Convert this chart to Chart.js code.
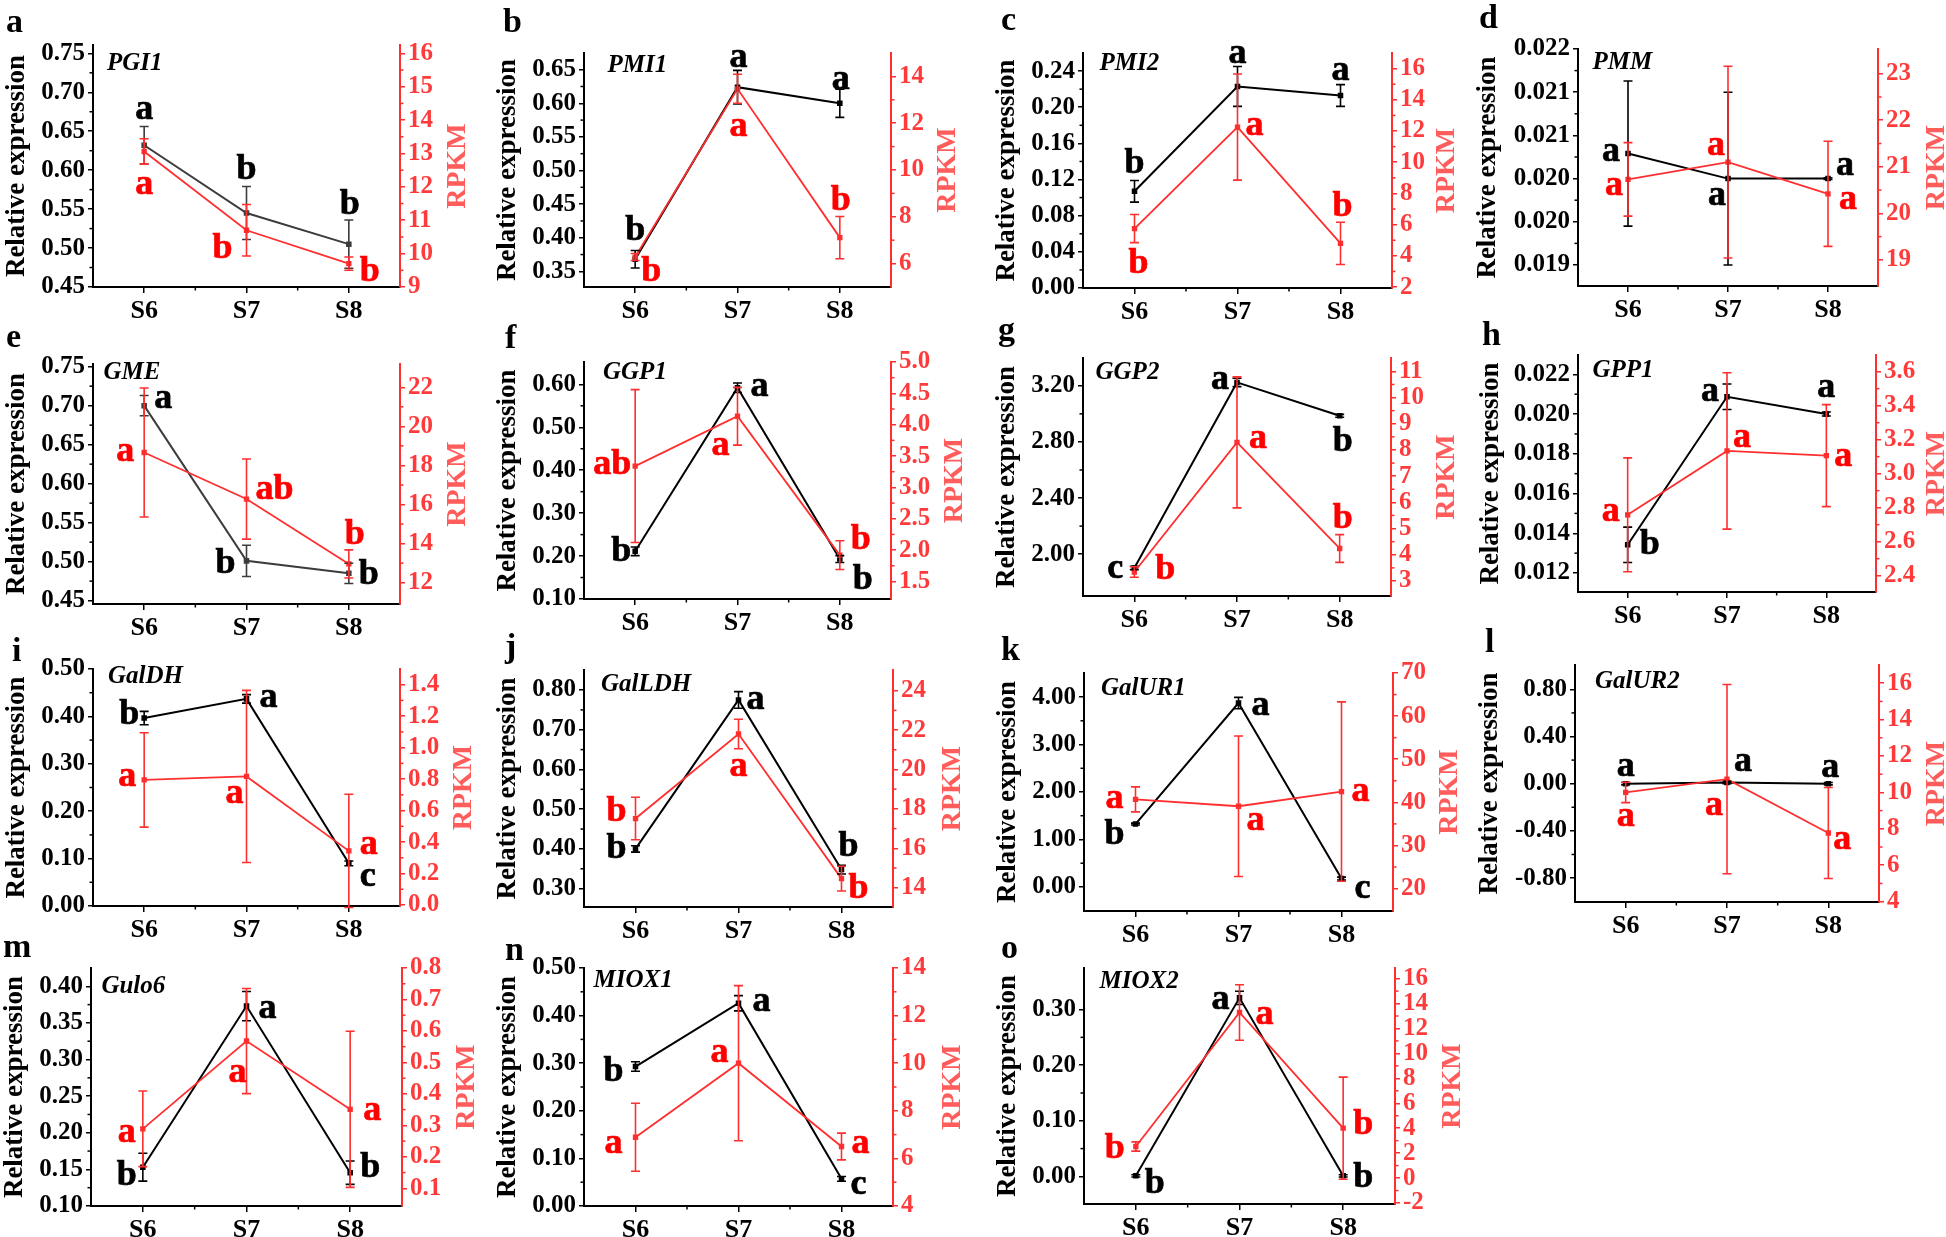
<!DOCTYPE html>
<html><head><meta charset="utf-8">
<script src="https://cdn.jsdelivr.net/npm/chart.js@4.4.1/dist/chart.umd.min.js"></script>
<style>
html,body{margin:0;padding:0;background:#fff;width:1946px;height:1237px;overflow:hidden;}
#wrap{position:relative;width:1946px;height:1237px;background:#fff;}
#wrap canvas{position:absolute;}
</style></head><body><div id="wrap"></div>
<script>
const stages = ['S6','S7','S8'];

// a PGI1
const PGI1_rel = [0.632, 0.545, 0.505];
const PGI1_relErr = [0.024, 0.034, 0.031];
const PGI1_rpkm = [13.06, 10.70, 9.70];
const PGI1_rpkmErr = [0.38, 0.77, 0.20];
const PGI1_relSig = ['a','b','b'];
const PGI1_rpkmSig = ['a','b','b'];
const PGI1_relTicks = [0.45,0.50,0.55,0.60,0.65,0.70,0.75];
const PGI1_rpkmTicks = [9,10,11,12,13,14,15,16];
// b PMI1
const PMI1_rel = [0.368, 0.624, 0.600];
const PMI1_relErr = [0.013, 0.025, 0.021];
const PMI1_rpkm = [6.28, 13.47, 7.11];
const PMI1_rpkmErr = [0.15, 0.62, 0.90];
const PMI1_relSig = ['b','a','a'];
const PMI1_rpkmSig = ['b','a','b'];
const PMI1_relTicks = [0.35,0.40,0.45,0.50,0.55,0.60,0.65];
const PMI1_rpkmTicks = [6,8,10,12,14];
// c PMI2
const PMI2_rel = [0.107, 0.223, 0.213];
const PMI2_relErr = [0.012, 0.022, 0.012];
const PMI2_rpkm = [5.75, 12.25, 4.80];
const PMI2_rpkmErr = [0.90, 3.40, 1.35];
const PMI2_relSig = ['b','a','a'];
const PMI2_rpkmSig = ['b','a','b'];
const PMI2_relTicks = [0.00,0.04,0.08,0.12,0.16,0.20,0.24];
const PMI2_rpkmTicks = [2,4,6,8,10,12,14,16];
// d PMM
const PMM_rel = [0.02079, 0.0205, 0.0205];
const PMM_relErr = [0.00084, 0.0010, 0.00001];
const PMM_rpkm = [20.73, 21.10, 20.42];
const PMM_rpkmErr = [0.79, 2.06, 1.13];
const PMM_relSig = ['a','a','a'];
const PMM_rpkmSig = ['a','a','a'];
const PMM_relTicks = [0.0195,0.0200,0.0205,0.0210,0.0215,0.0220];
const PMM_relTickLabels = ['0.019','0.020','0.020','0.021','0.021','0.022'];
const PMM_rpkmTicks = [19,20,21,22,23];
// e GME
const GME_rel = [0.700, 0.501, 0.485];
const GME_relErr = [0.013, 0.020, 0.013];
const GME_rpkm = [18.66, 16.28, 12.96];
const GME_rpkmErr = [3.30, 2.05, 0.72];
const GME_relSig = ['a','b','b'];
const GME_rpkmSig = ['a','ab','b'];
const GME_relTicks = [0.45,0.50,0.55,0.60,0.65,0.70,0.75];
const GME_rpkmTicks = [12,14,16,18,20,22];
// f GGP1
const GGP1_rel = [0.211, 0.592, 0.193];
const GGP1_relErr = [0.010, 0.011, 0.008];
const GGP1_rpkm = [3.34, 4.135, 1.92];
const GGP1_rpkmErr = [1.22, 0.46, 0.23];
const GGP1_relSig = ['b','a','b'];
const GGP1_rpkmSig = ['ab','a','b'];
const GGP1_relTicks = [0.10,0.20,0.30,0.40,0.50,0.60];
const GGP1_rpkmTicks = [1.5,2.0,2.5,3.0,3.5,4.0,4.5,5.0];
// g GGP2
const GGP2_rel = [1.902, 3.224, 2.986];
const GGP2_relErr = [0.012, 0.030, 0.010];
const GGP2_rpkm = [3.34, 8.29, 4.24];
const GGP2_rpkmErr = [0.20, 2.50, 0.53];
const GGP2_relSig = ['c','a','b'];
const GGP2_rpkmSig = ['b','a','b'];
const GGP2_relTicks = [2.00,2.40,2.80,3.20];
const GGP2_rpkmTicks = [3,4,5,6,7,8,9,10,11];
// h GPP1
const GPP1_rel = [0.01342, 0.02087, 0.0200];
const GPP1_relErr = [0.00089, 0.00064, 0.0001];
const GPP1_rpkm = [2.758, 3.134, 3.106];
const GPP1_rpkmErr = [0.335, 0.46, 0.30];
const GPP1_relSig = ['b','a','a'];
const GPP1_rpkmSig = ['a','a','a'];
const GPP1_relTicks = [0.012,0.014,0.016,0.018,0.020,0.022];
const GPP1_rpkmTicks = [2.4,2.6,2.8,3.0,3.2,3.4,3.6];
// i GalDH
const GalDH_rel = [0.3965, 0.437, 0.090];
const GalDH_relErr = [0.014, 0.009, 0.005];
const GalDH_rpkm = [0.795, 0.817, 0.344];
const GalDH_rpkmErr = [0.30, 0.547, 0.36];
const GalDH_relSig = ['b','a','c'];
const GalDH_rpkmSig = ['a','a','a'];
const GalDH_relTicks = [0.00,0.10,0.20,0.30,0.40,0.50];
const GalDH_rpkmTicks = [0.0,0.2,0.4,0.6,0.8,1.0,1.2,1.4];
// j GalLDH
const GalLDH_rel = [0.400, 0.775, 0.348];
const GalLDH_relErr = [0.008, 0.021, 0.011];
const GalLDH_rpkm = [17.51, 21.80, 14.46];
const GalLDH_rpkmErr = [1.08, 0.75, 0.63];
const GalLDH_relSig = ['b','a','b'];
const GalLDH_rpkmSig = ['b','a','b'];
const GalLDH_relTicks = [0.30,0.40,0.50,0.60,0.70,0.80];
const GalLDH_rpkmTicks = [14,16,18,20,22,24];
// k GalUR1
const GalUR1_rel = [1.324, 3.873, 0.176];
const GalUR1_relErr = [0.02, 0.12, 0.03];
const GalUR1_rpkm = [40.7, 39.1, 42.5];
const GalUR1_rpkmErr = [2.9, 16.3, 20.8];
const GalUR1_relSig = ['b','a','c'];
const GalUR1_rpkmSig = ['a','a','a'];
const GalUR1_relTicks = [0.00,1.00,2.00,3.00,4.00];
const GalUR1_rpkmTicks = [20,30,40,50,60,70];
// l GalUR2
const GalUR2_rel = [0.0, 0.01, 0.0];
const GalUR2_relErr = [0.01, 0.01, 0.01];
const GalUR2_rpkm = [10.0, 10.73, 7.77];
const GalUR2_rpkmErr = [0.56, 5.2, 2.5];
const GalUR2_relSig = ['a','a','a'];
const GalUR2_rpkmSig = ['a','a','a'];
const GalUR2_relTicks = [-0.80,-0.40,0.00,0.40,0.80];
const GalUR2_rpkmTicks = [4,6,8,10,12,14,16];
// m Gulo6
const Gulo6_rel = [0.153, 0.373, 0.1455];
const Gulo6_relErr = [0.019, 0.020, 0.016];
const Gulo6_rpkm = [0.289, 0.568, 0.351];
const Gulo6_rpkmErr = [0.12, 0.167, 0.248];
const Gulo6_relSig = ['b','a','b'];
const Gulo6_rpkmSig = ['a','a','a'];
const Gulo6_relTicks = [0.10,0.15,0.20,0.25,0.30,0.35,0.40];
const Gulo6_rpkmTicks = [0.1,0.2,0.3,0.4,0.5,0.6,0.7,0.8];
// n MIOX1
const MIOX1_rel = [0.293, 0.426, 0.057];
const MIOX1_relErr = [0.010, 0.016, 0.005];
const MIOX1_rpkm = [6.89, 10.0, 6.5];
const MIOX1_rpkmErr = [1.43, 3.26, 0.56];
const MIOX1_relSig = ['b','a','c'];
const MIOX1_rpkmSig = ['a','a','a'];
const MIOX1_relTicks = [0.00,0.10,0.20,0.30,0.40,0.50];
const MIOX1_rpkmTicks = [4,6,8,10,12,14];
// o MIOX2
const MIOX2_rel = [0.001, 0.321, 0.001];
const MIOX2_relErr = [0.002, 0.012, 0.002];
const MIOX2_rpkm = [2.53, 13.28, 4.0];
const MIOX2_rpkmErr = [0.37, 2.23, 4.1];
const MIOX2_relSig = ['b','a','b'];
const MIOX2_rpkmSig = ['b','a','b'];
const MIOX2_relTicks = [0.00,0.10,0.20,0.30];
const MIOX2_rpkmTicks = [-2,0,2,4,6,8,10,12,14,16];

const FONT = '"Liberation Serif","Times New Roman",serif';
const PADL = 120, PADR = 85, PADT = 52, PADB = 48;
const RED_LINE = '#ff2f2f', RED_TICK = '#ff3a3a', RED_TITLE = '#ff5c5c', RED_TXT = '#ff0000';

function fmt(arr, d){ return arr.map(v => v.toFixed(d)); }

const panels = [
 {letter:'a', gene:'PGI1', rel:PGI1_rel, relErr:PGI1_relErr, rpkm:PGI1_rpkm, rpkmErr:PGI1_rpkmErr, relSig:PGI1_relSig, rpkmSig:PGI1_rpkmSig,
  relTicks:PGI1_relTicks, relLabels:fmt(PGI1_relTicks,2), rpkmTicks:PGI1_rpkmTicks, rpkmLabels:fmt(PGI1_rpkmTicks,0),
  area:[92.5,400,45,287.3], relRange:[0.45,0.7607], rpkmRange:[9,16.25],
  relOff:[[0,-36],[0,-43],[1,-39]], rpkmOff:[[0,33],[-24,18],[21,8]], letterXY:[6,32], geneOff:[14,25], titleDx:-76, rpkmDx:58, gray:true},
 {letter:'b', gene:'PMI1', rel:PMI1_rel, relErr:PMI1_relErr, rpkm:PMI1_rpkm, rpkmErr:PMI1_rpkmErr, relSig:PMI1_relSig, rpkmSig:PMI1_rpkmSig,
  relTicks:PMI1_relTicks, relLabels:fmt(PMI1_relTicks,2), rpkmTicks:PMI1_rpkmTicks, rpkmLabels:fmt(PMI1_rpkmTicks,0),
  area:[584,890.6,53,287.3], relRange:[0.3267,0.6748], rpkmRange:[5,15],
  relOff:[[0,-29],[1,-29],[1,-24]], rpkmOff:[[16,15],[1,38],[1,-37]], letterXY:[503,32], geneOff:[23.5,19], titleDx:-76, rpkmDx:57},
 {letter:'c', gene:'PMI2', rel:PMI2_rel, relErr:PMI2_relErr, rpkm:PMI2_rpkm, rpkmErr:PMI2_rpkmErr, relSig:PMI2_relSig, rpkmSig:PMI2_rpkmSig,
  relTicks:PMI2_relTicks, relLabels:fmt(PMI2_relTicks,2), rpkmTicks:PMI2_rpkmTicks, rpkmLabels:fmt(PMI2_rpkmTicks,0),
  area:[1082.5,1391.9,52.7,288.3], relRange:[0,0.26], rpkmRange:[1.94,17.0],
  relOff:[[0,-28],[0,-33],[0,-25]], rpkmOff:[[4,35],[17,-1],[2,-37]], letterXY:[1001,30], geneOff:[16.5,17.3], titleDx:-76, rpkmDx:55},
 {letter:'d', gene:'PMM', rel:PMM_rel, relErr:PMM_relErr, rpkm:PMM_rpkm, rpkmErr:PMM_rpkmErr, relSig:PMM_relSig, rpkmSig:PMM_rpkmSig,
  relTicks:PMM_relTicks, relLabels:PMM_relTickLabels, rpkmTicks:PMM_rpkmTicks, rpkmLabels:fmt(PMM_rpkmTicks,0),
  area:[1577.5,1878,49.3,286], relRange:[0.019257,0.0220], rpkmRange:[18.44,23.53],
  relOff:[[-17,-2],[-11,17],[17,-13]], rpkmOff:[[-14,6],[-12,-16],[20,6]], letterXY:[1479,28], geneOff:[14.5,20], titleDx:-90, rpkmDx:59},
 {letter:'e', gene:'GME', rel:GME_rel, relErr:GME_relErr, rpkm:GME_rpkm, rpkmErr:GME_rpkmErr, relSig:GME_relSig, rpkmSig:GME_rpkmSig,
  relTicks:GME_relTicks, relLabels:fmt(GME_relTicks,2), rpkmTicks:GME_rpkmTicks, rpkmLabels:fmt(GME_rpkmTicks,0),
  area:[92.5,400,364,604], relRange:[0.4457,0.7534], rpkmRange:[10.91,23.19],
  relOff:[[19,-7],[-21,3],[20,1]], rpkmOff:[[-19,-1],[28,-9],[6,-29]], letterXY:[6,347], geneOff:[10.5,15], titleDx:-76, rpkmDx:58, gray:true},
 {letter:'f', gene:'GGP1', rel:GGP1_rel, relErr:GGP1_relErr, rpkm:GGP1_rpkm, rpkmErr:GGP1_rpkmErr, relSig:GGP1_relSig, rpkmSig:GGP1_rpkmSig,
  relTicks:GGP1_relTicks, relLabels:fmt(GGP1_relTicks,2), rpkmTicks:GGP1_rpkmTicks, rpkmLabels:fmt(GGP1_rpkmTicks,1),
  area:[584,890.6,361.7,599.3], relRange:[0.10,0.652], rpkmRange:[1.22,5.0],
  relOff:[[-14,0],[22,-1],[23,21]], rpkmOff:[[-23,-1],[-17,29],[21,-15]], letterXY:[505,348], geneOff:[19,17.3], titleDx:-76, rpkmDx:64},
 {letter:'g', gene:'GGP2', rel:GGP2_rel, relErr:GGP2_relErr, rpkm:GGP2_rpkm, rpkmErr:GGP2_rpkmErr, relSig:GGP2_relSig, rpkmSig:GGP2_rpkmSig,
  relTicks:GGP2_relTicks, relLabels:fmt(GGP2_relTicks,2), rpkmTicks:GGP2_rpkmTicks, rpkmLabels:fmt(GGP2_rpkmTicks,0),
  area:[1082.5,1390.6,358.3,595.7], relRange:[1.702,3.398], rpkmRange:[2.426,11.51],
  relOff:[[-19,1],[-17,-3],[3,26]], rpkmOff:[[31,-2],[21,-4],[3,-30]], letterXY:[998,340], geneOff:[12.5,20.7], titleDx:-76, rpkmDx:56},
 {letter:'h', gene:'GPP1', rel:GPP1_rel, relErr:GPP1_relErr, rpkm:GPP1_rpkm, rpkmErr:GPP1_rpkmErr, relSig:GPP1_relSig, rpkmSig:GPP1_rpkmSig,
  relTicks:GPP1_relTicks, relLabels:fmt(GPP1_relTicks,3), rpkmTicks:GPP1_rpkmTicks, rpkmLabels:fmt(GPP1_rpkmTicks,1),
  area:[1577.5,1876,355,592.3], relRange:[0.011045,0.022972], rpkmRange:[2.304,3.698],
  relOff:[[22,0],[-17,-5],[0,-26]], rpkmOff:[[-17,-3],[15,-13],[17,1]], letterXY:[1482,345], geneOff:[14.5,22], titleDx:-87, rpkmDx:61},
 {letter:'i', gene:'GalDH', rel:GalDH_rel, relErr:GalDH_relErr, rpkm:GalDH_rpkm, rpkmErr:GalDH_rpkmErr, relSig:GalDH_relSig, rpkmSig:GalDH_rpkmSig,
  relTicks:GalDH_relTicks, relLabels:fmt(GalDH_relTicks,2), rpkmTicks:GalDH_rpkmTicks, rpkmLabels:fmt(GalDH_rpkmTicks,1),
  area:[92.5,400,669.3,906], relRange:[0,0.50], rpkmRange:[-0.0064,1.4997],
  relOff:[[-15,-3],[22,-1],[19,13]], rpkmOff:[[-17,-3],[-12,17],[20,-6]], letterXY:[12,661], geneOff:[15,13.7], titleDx:-76, rpkmDx:64},
 {letter:'j', gene:'GalLDH', rel:GalLDH_rel, relErr:GalLDH_relErr, rpkm:GalLDH_rpkm, rpkmErr:GalLDH_rpkmErr, relSig:GalLDH_relSig, rpkmSig:GalLDH_rpkmSig,
  relTicks:GalLDH_relTicks, relLabels:fmt(GalLDH_relTicks,2), rpkmTicks:GalLDH_rpkmTicks, rpkmLabels:fmt(GalLDH_rpkmTicks,0),
  area:[584,892.5,670,906.7], relRange:[0.2538,0.8504], rpkmRange:[13.02,25.05],
  relOff:[[-19,0],[17,0],[7,-23]], rpkmOff:[[-19,-7],[0,33],[17,10]], letterXY:[505,657], geneOff:[17,21], titleDx:-76, rpkmDx:60},
 {letter:'k', gene:'GalUR1', rel:GalUR1_rel, relErr:GalUR1_relErr, rpkm:GalUR1_rpkm, rpkmErr:GalUR1_rpkmErr, relSig:GalUR1_relSig, rpkmSig:GalUR1_rpkmSig,
  relTicks:GalUR1_relTicks, relLabels:fmt(GalUR1_relTicks,2), rpkmTicks:GalUR1_rpkmTicks, rpkmLabels:fmt(GalUR1_rpkmTicks,0),
  area:[1083.75,1393,673.3,910.7], relRange:[-0.507,4.507], rpkmRange:[14.8,70],
  relOff:[[-21,11],[22,3],[21,10]], rpkmOff:[[-21,-1],[17,14],[19,0]], letterXY:[1001,660], geneOff:[17,21.7], titleDx:-76, rpkmDx:57},
 {letter:'l', gene:'GalUR2', rel:GalUR2_rel, relErr:GalUR2_relErr, rpkm:GalUR2_rpkm, rpkmErr:GalUR2_rpkmErr, relSig:GalUR2_relSig, rpkmSig:GalUR2_rpkmSig,
  relTicks:GalUR2_relTicks, relLabels:fmt(GalUR2_relTicks,2), rpkmTicks:GalUR2_rpkmTicks, rpkmLabels:fmt(GalUR2_rpkmTicks,0),
  area:[1575,1879.4,665,902.3], relRange:[-1.003,1.006], rpkmRange:[3.98,17.0],
  relOff:[[0,-17],[16,-21],[2,-16]], rpkmOff:[[0,24],[-13,27],[14,7]], letterXY:[1485,652], geneOff:[20,23], titleDx:-85, rpkmDx:58},
 {letter:'m', gene:'Gulo6', rel:Gulo6_rel, relErr:Gulo6_relErr, rpkm:Gulo6_rpkm, rpkmErr:Gulo6_rpkmErr, relSig:Gulo6_relSig, rpkmSig:Gulo6_rpkmSig,
  relTicks:Gulo6_relTicks, relLabels:fmt(Gulo6_relTicks,2), rpkmTicks:Gulo6_rpkmTicks, rpkmLabels:fmt(Gulo6_rpkmTicks,1),
  area:[90.6,401.9,968.3,1206], relRange:[0.10,0.425], rpkmRange:[0.0438,0.8],
  relOff:[[-16,9],[21,3],[20,-5]], rpkmOff:[[-16,4],[-9,32],[22,1]], letterXY:[3,957], geneOff:[10.4,24.7], titleDx:-76, rpkmDx:65},
 {letter:'n', gene:'MIOX1', rel:MIOX1_rel, relErr:MIOX1_relErr, rpkm:MIOX1_rpkm, rpkmErr:MIOX1_rpkmErr, relSig:MIOX1_relSig, rpkmSig:MIOX1_rpkmSig,
  relTicks:MIOX1_relTicks, relLabels:fmt(MIOX1_relTicks,2), rpkmTicks:MIOX1_rpkmTicks, rpkmLabels:fmt(MIOX1_rpkmTicks,0),
  area:[584.4,892.5,968.3,1206], relRange:[0,0.50], rpkmRange:[4,14],
  relOff:[[-22,5],[23,-2],[17,6]], rpkmOff:[[-22,6],[-19,-10],[19,-3]], letterXY:[505,960], geneOff:[9.6,18.7], titleDx:-76, rpkmDx:60},
 {letter:'o', gene:'MIOX2', rel:MIOX2_rel, relErr:MIOX2_relErr, rpkm:MIOX2_rpkm, rpkmErr:MIOX2_rpkmErr, relSig:MIOX2_relSig, rpkmSig:MIOX2_rpkmSig,
  relTicks:MIOX2_relTicks, relLabels:fmt(MIOX2_relTicks,2), rpkmTicks:MIOX2_rpkmTicks, rpkmLabels:fmt(MIOX2_rpkmTicks,0),
  area:[1084.4,1395,967.7,1204.3], relRange:[-0.0496,0.3747], rpkmRange:[-2.08,16.85],
  relOff:[[19,8],[-19,2],[20,2]], rpkmOff:[[-21,2],[25,2],[20,-3]], letterXY:[1001,958], geneOff:[15.6,20.3], titleDx:-76, rpkmDx:58}
];

const wrap = document.getElementById('wrap');

function makePanel(p){
  const [L,R,T,B] = p.area;
  const cl = Math.round(L - PADL), ct = Math.round(T - PADT);
  const cw = Math.round(R - cl) + PADR, ch = Math.round(B - ct) + PADB;
  const cv = document.createElement('canvas');
  cv.width = cw; cv.height = ch;
  cv.style.left = cl + 'px'; cv.style.top = ct + 'px';
  cv.style.width = cw + 'px'; cv.style.height = ch + 'px';
  wrap.appendChild(cv);
  const blackCol = p.gray ? '#3c3c3c' : '#000000';

  const deco = {
    id: 'deco',
    afterDatasetsDraw(chart){
      const ctx = chart.ctx;
      const sets = [[0, p.relErr, blackCol, chart.scales.y], [1, p.rpkmErr, RED_LINE, chart.scales.y1]];
      sets.forEach(([di, errs, col, sc]) => {
        const meta = chart.getDatasetMeta(di);
        const vals = chart.data.datasets[di].data;
        ctx.save(); ctx.strokeStyle = col; ctx.lineWidth = 1.6;
        meta.data.forEach((pt, i) => {
          const yt = sc.getPixelForValue(vals[i] + errs[i]);
          const yb = sc.getPixelForValue(vals[i] - errs[i]);
          ctx.beginPath();
          ctx.moveTo(pt.x, yt); ctx.lineTo(pt.x, yb);
          ctx.moveTo(pt.x - 4.5, yt); ctx.lineTo(pt.x + 4.5, yt);
          ctx.moveTo(pt.x - 4.5, yb); ctx.lineTo(pt.x + 4.5, yb);
          ctx.stroke();
        });
        ctx.restore();
      });
    },
    afterDraw(chart){
      const ctx = chart.ctx, ca = chart.chartArea;
      ctx.save();
      // minor ticks
      const minor = (sc, col, dir) => {
        const t = sc.ticks.map(o => o.value);
        ctx.strokeStyle = col; ctx.lineWidth = 1.5;
        const x0 = dir < 0 ? ca.left : ca.right;
        for (let i = 0; i < t.length - 1; i++) {
          const y = sc.getPixelForValue((t[i] + t[i+1]) / 2);
          ctx.beginPath(); ctx.moveTo(x0, y); ctx.lineTo(x0 + dir * 3.5, y); ctx.stroke();
        }
      };
      minor(chart.scales.y, '#000', -1);
      minor(chart.scales.y1, RED_LINE, 1);
      const xs = chart.scales.x;
      ctx.strokeStyle = '#000'; ctx.lineWidth = 1.5;
      for (let i = 0; i < 2; i++) {
        const x = (xs.getPixelForValue(i) + xs.getPixelForValue(i + 1)) / 2;
        ctx.beginPath(); ctx.moveTo(x, ca.bottom); ctx.lineTo(x, ca.bottom + 3.5); ctx.stroke();
      }
      // significance letters
      ctx.font = 'bold 36px ' + FONT;
      ctx.textAlign = 'center'; ctx.textBaseline = 'middle';
      ctx.lineWidth = 0.7;
      const m0 = chart.getDatasetMeta(0), m1 = chart.getDatasetMeta(1);
      m0.data.forEach((pt, i) => {
        ctx.fillStyle = '#000'; ctx.strokeStyle = '#000';
        const x = pt.x + p.relOff[i][0], y = pt.y + p.relOff[i][1];
        ctx.fillText(p.relSig[i], x, y); ctx.strokeText(p.relSig[i], x, y);
      });
      m1.data.forEach((pt, i) => {
        ctx.fillStyle = RED_TXT; ctx.strokeStyle = RED_TXT;
        const x = pt.x + p.rpkmOff[i][0], y = pt.y + p.rpkmOff[i][1];
        ctx.fillText(p.rpkmSig[i], x, y); ctx.strokeText(p.rpkmSig[i], x, y);
      });
      // axis titles
      const cy = (ca.top + ca.bottom) / 2;
      ctx.save();
      ctx.translate(ca.left + p.titleDx, cy); ctx.rotate(-Math.PI / 2);
      ctx.fillStyle = '#000'; ctx.font = 'bold 27px ' + FONT;
      ctx.fillText('Relative expression', 0, 0);
      ctx.restore();
      ctx.save();
      ctx.translate(ca.right + p.rpkmDx, cy); ctx.rotate(-Math.PI / 2);
      ctx.fillStyle = RED_TITLE; ctx.font = 'bold 28px ' + FONT;
      ctx.fillText('RPKM', 0, 0);
      ctx.restore();
      // panel letter & gene name
      ctx.textAlign = 'left'; ctx.textBaseline = 'alphabetic';
      ctx.fillStyle = '#000';
      ctx.font = 'bold 34px ' + FONT;
      ctx.fillText(p.letter, p.letterXY[0] - cl, p.letterXY[1] - ct);
      ctx.font = 'italic bold 25px ' + FONT;
      ctx.fillText(p.gene, ca.left + p.geneOff[0], ca.top + p.geneOff[1]);
      ctx.restore();
    }
  };

  const tickFont = {family: FONT, size: 25, weight: 'bold'};
  new Chart(cv, {
    type: 'line',
    data: {
      labels: stages,
      datasets: [
        {label: 'Relative expression', data: p.rel, yAxisID: 'y', borderColor: blackCol, backgroundColor: blackCol,
         borderWidth: 2, pointStyle: 'rect', pointRadius: 2.5, pointBackgroundColor: blackCol, pointBorderColor: blackCol, tension: 0, fill: false, order: 1},
        {label: 'RPKM', data: p.rpkm, yAxisID: 'y1', borderColor: RED_LINE, backgroundColor: RED_LINE,
         borderWidth: 1.8, pointStyle: 'rect', pointRadius: 2.5, pointBackgroundColor: RED_LINE, pointBorderColor: RED_LINE, tension: 0, fill: false, order: 0}
      ]
    },
    options: {
      responsive: false, animation: false, devicePixelRatio: 1,
      layout: {padding: {top: PADT, left: 0, right: 0, bottom: 0}},
      plugins: {legend: {display: false}, tooltip: {enabled: false}, title: {display: false}},
      scales: {
        x: {
          type: 'category', offset: true, position: 'bottom',
          grid: {display: true, drawOnChartArea: false, drawTicks: true, tickLength: 6, color: '#000', lineWidth: 1.5, offset: false},
          border: {display: true, color: '#000', width: 2},
          ticks: {font: {family: FONT, size: 26, weight: 'bold'}, color: '#000', padding: 3, maxRotation: 0, autoSkip: false},
          afterFit(s){ s.height = PADB; }
        },
        y: {
          type: 'linear', position: 'left', bounds: 'data', min: p.relRange[0], max: p.relRange[1],
          afterBuildTicks(s){ s.ticks = p.relTicks.map(v => ({value: v})); },
          grid: {display: true, drawOnChartArea: false, drawTicks: true, tickLength: 5, color: '#000', lineWidth: 1.5},
          border: {display: true, color: '#000', width: 2},
          ticks: {font: tickFont, color: '#000', padding: 3, autoSkip: false, callback: (v, i) => p.relLabels[i]},
          afterFit(s){ s.width = PADL; }
        },
        y1: {
          type: 'linear', position: 'right', bounds: 'data', min: p.rpkmRange[0], max: p.rpkmRange[1],
          afterBuildTicks(s){ s.ticks = p.rpkmTicks.map(v => ({value: v})); },
          grid: {display: true, drawOnChartArea: false, drawTicks: true, tickLength: 5, color: RED_LINE, lineWidth: 1.5},
          border: {display: true, color: RED_LINE, width: 2},
          ticks: {font: tickFont, color: RED_TICK, padding: 3, autoSkip: false, callback: (v, i) => p.rpkmLabels[i]},
          afterFit(s){ s.width = PADR; }
        }
      }
    },
    plugins: [deco]
  });
}

panels.forEach(makePanel);
</script>
</body></html>
